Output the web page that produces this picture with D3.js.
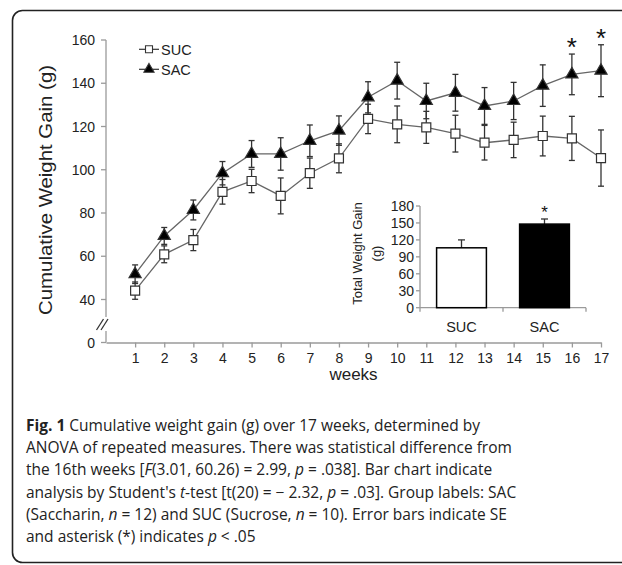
<!DOCTYPE html>
<html><head><meta charset="utf-8">
<script src="https://cdn.jsdelivr.net/npm/d3@7"></script>
<style>
html,body{margin:0;padding:0;background:#fff;}
svg{display:block;}
</style></head>
<body>
<script>
const weeks = [1,2,3,4,5,6,7,8,9,10,11,12,13,14,15,16,17];
const sucMean = [44.1,60.9,67.5,89.8,94.8,87.9,98.4,105.3,123.5,121.0,119.6,116.7,112.5,113.8,115.6,114.5,105.4];
const sucErr  = [4.0,3.9,4.9,5.7,5.4,8.3,7.0,6.7,6.8,8.5,7.4,8.5,8.0,8.2,9.2,10.2,13.0];
const sacMean = [51.7,69.4,81.4,98.4,107.3,107.3,113.4,118.1,133.5,141.2,131.8,135.6,129.5,131.8,138.9,144.1,145.8];
const sacErr  = [4.3,3.9,4.6,5.4,6.2,7.5,7.3,6.8,7.2,8.5,8.2,8.5,8.5,8.6,9.6,9.4,12.0];
const yTicks = [0,40,60,80,100,120,140,160];
const sigWeeks = [16,17];
const barGroups = ["SUC","SAC"];
const barValues = [106,148];
const barErrors = [14,9];
const barTicks = [0,30,60,90,120,150,180];
const captionLines = [
  [["Fig. 1","b"],[" Cumulative weight gain (g) over 17 weeks, determined by",""]],
  [["ANOVA of repeated measures. There was statistical difference from",""]],
  [["the 16th weeks [",""],["F","i"],["(3.01, 60.26) = 2.99, ",""],["p","i"],[" = .038]. Bar chart indicate",""]],
  [["analysis by Student's ",""],["t","i"],["-test [t(20) = \u2212 2.32, ",""],["p","i"],[" = .03]. Group labels: SAC",""]],
  [["(Saccharin, ",""],["n","i"],[" = 12) and SUC (Sucrose, ",""],["n","i"],[" = 10). Error bars indicate SE",""]],
  [["and asterisk (*) indicates ",""],["p","i"],[" < .05",""]]
];
const captionEnds = [502,512,490,522,502];

const W = 622, H = 565;
const svg = d3.select("body").append("svg").attr("width",W).attr("height",H);
const FONT = "'Liberation Sans', Arial, sans-serif";

// frame
svg.append("rect").attr("x",12.5).attr("y",10.5).attr("width",660).attr("height",552)
  .attr("rx",10).attr("fill","none").attr("stroke","#222").attr("stroke-width",1.6);

// scales
const x = d3.scaleLinear().domain([0,17]).range([106,601]);
const y = d3.scaleLinear().domain([0,40,160]).range([342.5,299.5,40]);

const axisCol = "#9a9a9a";
const g = svg.append("g").attr("font-family",FONT);

// y axis line with break
g.append("line").attr("x1",x(0)).attr("x2",x(0)).attr("y1",y(160)).attr("y2",317).attr("stroke",axisCol).attr("stroke-width",1.3);
g.append("line").attr("x1",x(0)).attr("x2",x(0)).attr("y1",331).attr("y2",y(0)).attr("stroke",axisCol).attr("stroke-width",1.3);
[-1.5,3].forEach(dx=>{
  g.append("line").attr("x1",x(0)-8+dx).attr("y1",330).attr("x2",x(0)-1+dx).attr("y2",319)
   .attr("stroke","#333").attr("stroke-width",1.3);
});
yTicks.forEach(v=>{
  g.append("line").attr("x1",x(0)-5).attr("x2",x(0)).attr("y1",y(v)).attr("y2",y(v)).attr("stroke",axisCol).attr("stroke-width",1.3);
  g.append("text").attr("x",95).attr("y",y(v)+5).attr("text-anchor","end").attr("font-size",14).attr("fill","#222").text(v);
});
const xAxis = d3.axisBottom(x).tickValues(weeks).tickSize(5).tickSizeOuter(0).tickPadding(6);
const xg = g.append("g").attr("transform",`translate(0,${y(0)})`).call(xAxis);
xg.select(".domain").attr("stroke",axisCol).attr("stroke-width",1.3);
xg.selectAll(".tick line").attr("stroke",axisCol).attr("stroke-width",1.3);
xg.selectAll(".tick text").attr("font-size",14).attr("font-family",FONT).attr("fill","#222");

g.append("text").attr("x",(x(0)+x(17))/2).attr("y",380).attr("text-anchor","middle").attr("font-size",17).attr("fill","#222").text("weeks");
g.append("text").attr("transform",`translate(52,190) rotate(-90)`).attr("text-anchor","middle")
  .attr("font-size",19).attr("fill","#222").attr("textLength",250).attr("lengthAdjust","spacingAndGlyphs").text("Cumulative Weight Gain (g)");

const line = d3.line().x((d,i)=>x(weeks[i])).y(d=>y(d));
function drawSeries(mean, err){
  g.append("path").datum(mean).attr("d",line).attr("fill","none").attr("stroke","#666").attr("stroke-width",1.3);
  const eb = g.append("g").attr("stroke","#333").attr("stroke-width",1.3);
  mean.forEach((m,i)=>{
    const cx = x(weeks[i]);
    eb.append("line").attr("x1",cx).attr("x2",cx).attr("y1",y(m+err[i])).attr("y2",y(m-err[i]));
    eb.append("line").attr("x1",cx-3).attr("x2",cx+3).attr("y1",y(m+err[i])).attr("y2",y(m+err[i]));
    eb.append("line").attr("x1",cx-3).attr("x2",cx+3).attr("y1",y(m-err[i])).attr("y2",y(m-err[i]));
  });
}
function drawMarkers(mean, sym, size, fill){
  g.append("g").selectAll("path").data(mean).join("path")
    .attr("d",d3.symbol().type(sym).size(size))
    .attr("transform",(d,i)=>`translate(${x(weeks[i])},${y(d)})`)
    .attr("fill",fill).attr("stroke","#333").attr("stroke-width",1.2);
}
drawSeries(sucMean,sucErr);
drawSeries(sacMean,sacErr);
drawMarkers(sucMean,d3.symbolSquare,81,"#fff");
drawMarkers(sacMean,d3.symbolTriangle,64,"#000");

sigWeeks.forEach(w=>{
  const i = weeks.indexOf(w);
  g.append("text").attr("x",x(w)).attr("y",y(sacMean[i]+sacErr[i])+2).attr("text-anchor","middle")
   .attr("font-size",26).attr("fill","#111").text("*");
});

const leg = g.append("g");
[["SUC",d3.symbolSquare,49,"#fff",49.3],["SAC",d3.symbolTriangle,45,"#000",69.3]].forEach(([lab,sym,sz,fill,ly])=>{
  leg.append("line").attr("x1",139).attr("x2",159).attr("y1",ly).attr("y2",ly).attr("stroke","#333").attr("stroke-width",1.2);
  leg.append("path").attr("d",d3.symbol().type(sym).size(sz)).attr("transform",`translate(149,${ly})`)
     .attr("fill",fill).attr("stroke","#333").attr("stroke-width",1.1);
  leg.append("text").attr("x",161).attr("y",ly+5.2).attr("font-size",14.5).attr("fill","#222").text(lab);
});

// inset bar chart
const bx = d3.scaleBand().domain(barGroups).range([420,586]).paddingInner(0.4).paddingOuter(0.2);
const by = d3.scaleLinear().domain([0,180]).range([307.7,206]);
const ig = g.append("g");
ig.append("line").attr("x1",420).attr("x2",420).attr("y1",by(180)).attr("y2",by(0)).attr("stroke",axisCol).attr("stroke-width",1.3);
barTicks.forEach(v=>{
  ig.append("line").attr("x1",416).attr("x2",420).attr("y1",by(v)).attr("y2",by(v)).attr("stroke",axisCol).attr("stroke-width",1.3);
  ig.append("text").attr("x",414).attr("y",by(v)+5).attr("text-anchor","end").attr("font-size",14).attr("fill","#222").text(v);
});
ig.append("line").attr("x1",420).attr("x2",586).attr("y1",by(0)).attr("y2",by(0)).attr("stroke",axisCol).attr("stroke-width",1.3);
[420,(420+586)/2,586].forEach(tx=>{
  ig.append("line").attr("x1",tx).attr("x2",tx).attr("y1",by(0)).attr("y2",by(0)+4).attr("stroke",axisCol).attr("stroke-width",1.3);
});
barGroups.forEach((gname,i)=>{
  const cx = bx(gname)+bx.bandwidth()/2;
  ig.append("line").attr("x1",cx).attr("x2",cx).attr("y1",by(barValues[i])).attr("y2",by(barValues[i]+barErrors[i])).attr("stroke","#333").attr("stroke-width",1.3);
  ig.append("line").attr("x1",cx-3.5).attr("x2",cx+3.5).attr("y1",by(barValues[i]+barErrors[i])).attr("y2",by(barValues[i]+barErrors[i])).attr("stroke","#333").attr("stroke-width",1.3);
  ig.append("rect").attr("x",bx(gname)).attr("y",by(barValues[i])).attr("width",bx.bandwidth()).attr("height",by(0)-by(barValues[i]))
    .attr("fill",i===0?"#fff":"#000").attr("stroke","#000").attr("stroke-width",1.5);
  ig.append("text").attr("x",cx).attr("y",332).attr("text-anchor","middle").attr("font-size",14.5).attr("fill","#222").text(gname);
});
ig.append("text").attr("x",bx("SAC")+bx.bandwidth()/2).attr("y",by(barValues[1]+barErrors[1])-1).attr("text-anchor","middle")
  .attr("font-size",17).attr("fill","#111").text("*");
ig.append("text").attr("transform","translate(361.5,253.5) rotate(-90)").attr("text-anchor","middle").attr("font-size",13).attr("fill","#222").text("Total Weight Gain");
ig.append("text").attr("transform","translate(380.5,253.5) rotate(-90)").attr("text-anchor","middle").attr("font-size",13).attr("fill","#222").text("(g)");

// caption: natural widths, one font size fitted to the reference line ends
const cap = svg.append("g").attr("font-family","'Open Sans', 'Noto Sans', sans-serif").attr("fill","#222");
const texts = captionLines.map((parts,li)=>{
  const t = cap.append("text").attr("x",26).attr("y",431+li*22.2).attr("font-size",16);
  parts.forEach(([s,st])=>{
    const ts = t.append("tspan").text(s);
    if(st==="b") ts.attr("font-weight","bold");
    if(st==="i") ts.attr("font-style","italic");
  });
  return t;
});
const ratios = captionEnds.map((e,i)=>(e-26)/texts[i].node().getComputedTextLength()).sort((a,b)=>a-b);
const fs = 16*ratios[Math.floor(ratios.length/2)];
texts.forEach(t=>t.attr("font-size",fs));
</script>
</body></html>
